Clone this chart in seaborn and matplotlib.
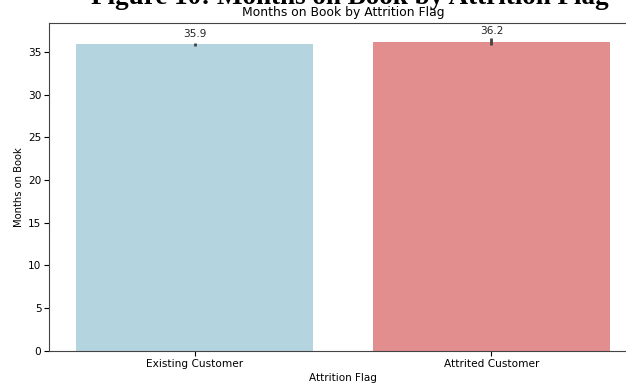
import matplotlib
matplotlib.use("Agg")
import matplotlib.pyplot as plt
from matplotlib.container import BarContainer
import seaborn as sns
import pandas as pd

# Mean months on book per attrition group, with 95% CI half-widths
categories = ["Existing Customer", "Attrited Customer"]
mean_months = [35.9, 36.2]
ci_half = [0.17, 0.38]
bar_colors = ["lightblue", "lightcoral"]

df = pd.DataFrame({"Attrition Flag": categories, "Months on Book": mean_months})

W, H = 626, 383
fig = plt.figure(figsize=(W / 100, H / 100), dpi=100)
ax = fig.add_axes([49 / W, 32.3 / H, 588 / W, 328.0 / H])

sns.barplot(data=df, x="Attrition Flag", y="Months on Book", hue="Attrition Flag",
            palette=bar_colors, legend=False, errorbar=None, ax=ax)

bar_containers = [c for c in ax.containers if isinstance(c, BarContainer)]

ax.errorbar(range(len(categories)), mean_months, yerr=ci_half, fmt="none",
            ecolor="#424242", elinewidth=2.0, capsize=0, zorder=3)

for cont in bar_containers:
    ax.bar_label(cont, fmt="%.1f", padding=4, fontsize=7.6, color="#222222")

ax.set_ylim(0, max(m + e for m, e in zip(mean_months, ci_half)) * 1.05)
ax.set_title("Months on Book by Attrition Flag", fontsize=8.9, pad=4.5)
ax.set_xlabel("Attrition Flag", fontsize=7.5, labelpad=3)
ax.set_ylabel("Months on Book", fontsize=7.2, labelpad=3)
ax.tick_params(labelsize=7.6)
ax.tick_params(axis="x", pad=2.5)
ax.tick_params(axis="y", pad=2)
for side in ax.spines.values():
    side.set_color("#444444")

fig.text(350 / W, 1 - 4.5 / H, "Figure 10: Months on Book by Attrition Flag",
         ha="center", va="baseline", fontsize=19.5, fontweight="bold",
         family=["Liberation Serif", "DejaVu Serif"])

fig.savefig("out.png", dpi=100)
